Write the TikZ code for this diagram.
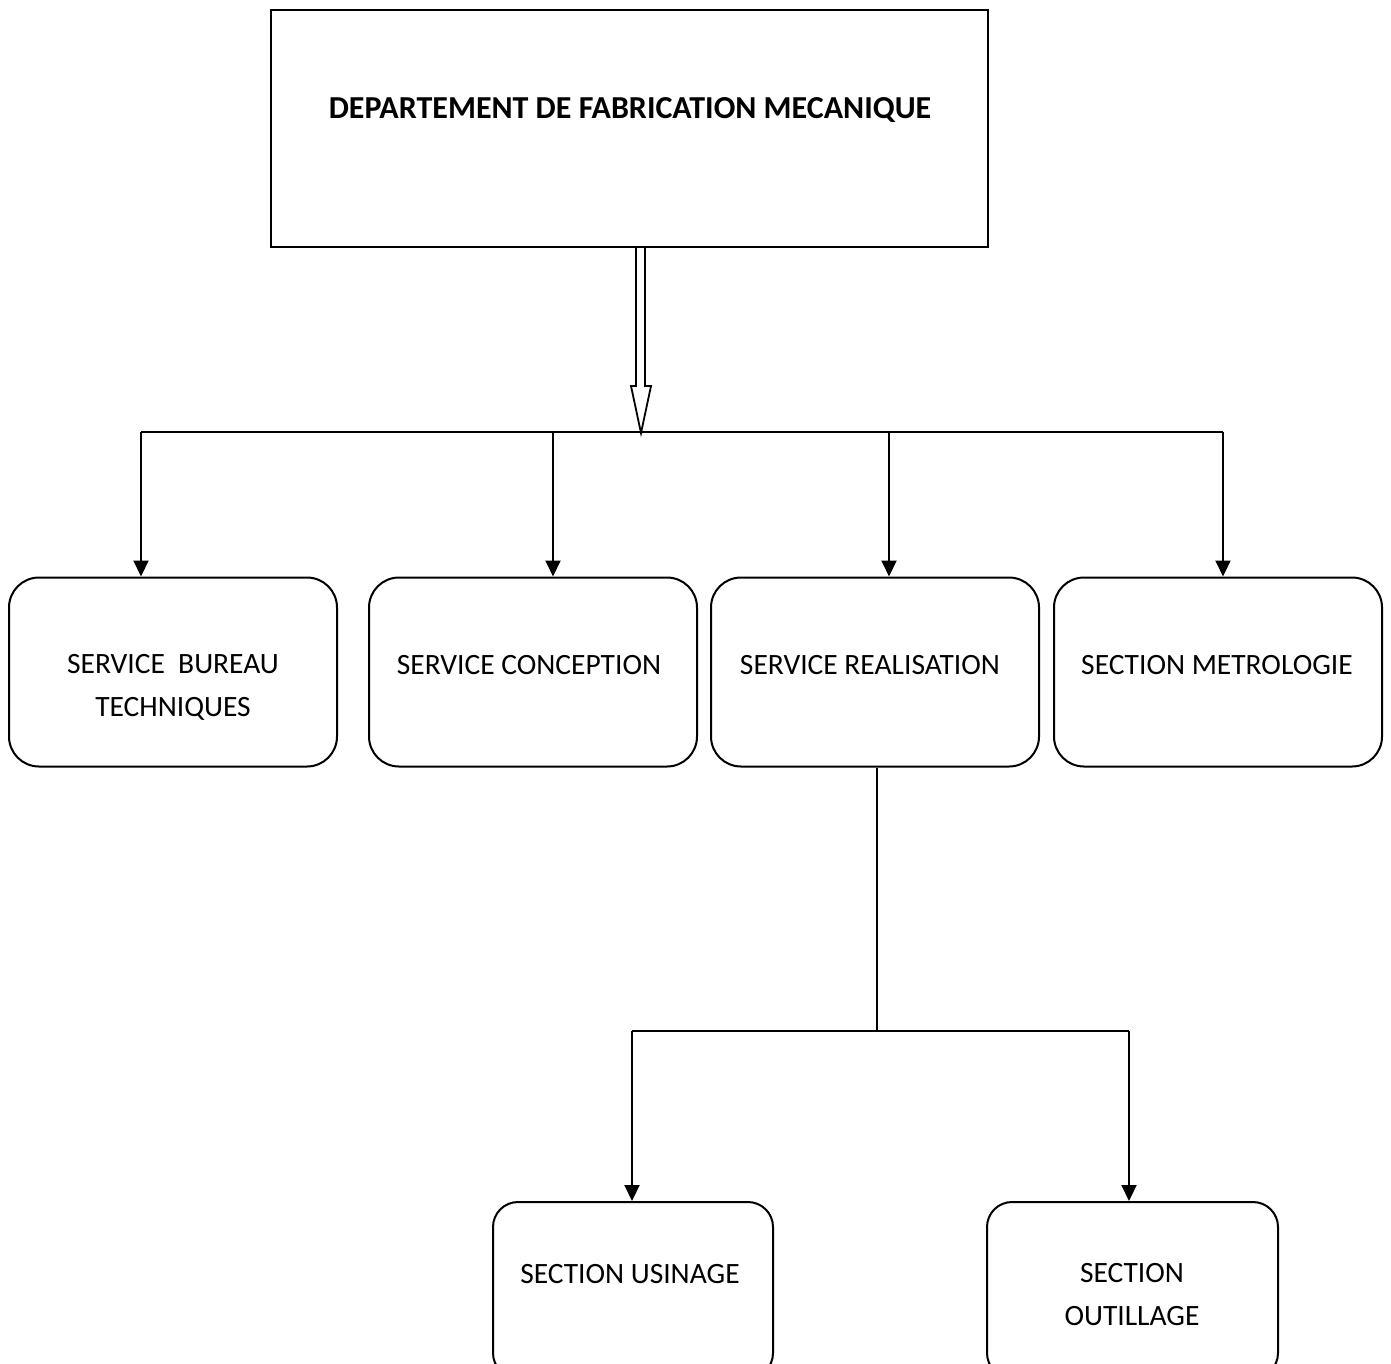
\documentclass[tikz,border=0pt]{standalone}
\usepackage{fontspec}
\setmainfont{Carlito}
\usetikzlibrary{arrows.meta}
\begin{document}
\begin{tikzpicture}[x=1pt,y=-1pt,
  line width=2pt,
  box/.style={draw,rounded corners=30pt,inner sep=0pt},
  topbox/.style={draw,inner sep=0pt},
  lbl/.style={font=\fontsize{29.5}{43}\selectfont,align=center,inner sep=0pt},
  conn/.style={-{Triangle[length=16pt,width=15pt]}},
  ]
\useasboundingbox (0,0) rectangle (1391,1363);
\clip (0,0) rectangle (1391,1363);
% top box
\node[topbox,minimum width=717pt,minimum height=237pt] (dept) at (629.5,128.5) {};
\node[lbl,font=\fontsize{32}{43}\selectfont\bfseries] (tdept) at (630,110) {DEPARTEMENT DE FABRICATION MECANIQUE};
% boxes
\node[box,minimum width=328pt,minimum height=189pt] (b1) at (173,672) {};
\node[box,minimum width=328pt,minimum height=189pt] (b2) at (533,672) {};
\node[box,minimum width=328pt,minimum height=189pt] (b3) at (875,672) {};
\node[box,minimum width=328pt,minimum height=189pt] (b4) at (1218,672) {};
\node[box,rounded corners=25pt,minimum width=280pt,minimum height=176pt] (b5) at (633,1290) {};
\node[box,rounded corners=25pt,minimum width=291pt,minimum height=176pt] (b6) at (1132.5,1290) {};
% texts
\node[lbl] (t1) at (173,687) {SERVICE\ \ BUREAU\\TECHNIQUES};
\node[lbl] (t2) at (529,665) {SERVICE CONCEPTION};
\node[lbl] (t3) at (870,665) {SERVICE REALISATION};
\node[lbl] (t4) at (1217,665) {SECTION METROLOGIE};
\node[lbl] (t5) at (630,1274) {SECTION USINAGE};
\node[lbl] (t6) at (1132,1295) {SECTION\\OUTILLAGE};
% hollow arrow
\coordinate (tip) at (641,433);
\draw[line width=1.8pt,line join=miter] (636,247) -- (636,386) -- (631,386) -- (tip) -- (651,386) -- (645,386) -- (645,247);
% bus
\coordinate (c1) at (141,432);
\coordinate (c2) at (553,432);
\coordinate (c3) at (889,432);
\coordinate (c4) at (1223,432);
\draw (c1) -- (c4);
\draw[conn] (c1) -- (c1 |- b1.north);
\draw[conn] (c2) -- (c2 |- b2.north);
\draw[conn] (c3) -- (c3 |- b3.north);
\draw[conn] (c4) -- (c4 |- b4.north);
% lower tree
\coordinate (j) at (877,1031);
\coordinate (d5) at (632,1031);
\coordinate (d6) at (1129,1031);
\draw (b3.south -| j) -- (j);
\draw (d5) -- (d6);
\draw[conn] (d5) -- (d5 |- b5.north);
\draw[conn] (d6) -- (d6 |- b6.north);
\end{tikzpicture}
\end{document}
